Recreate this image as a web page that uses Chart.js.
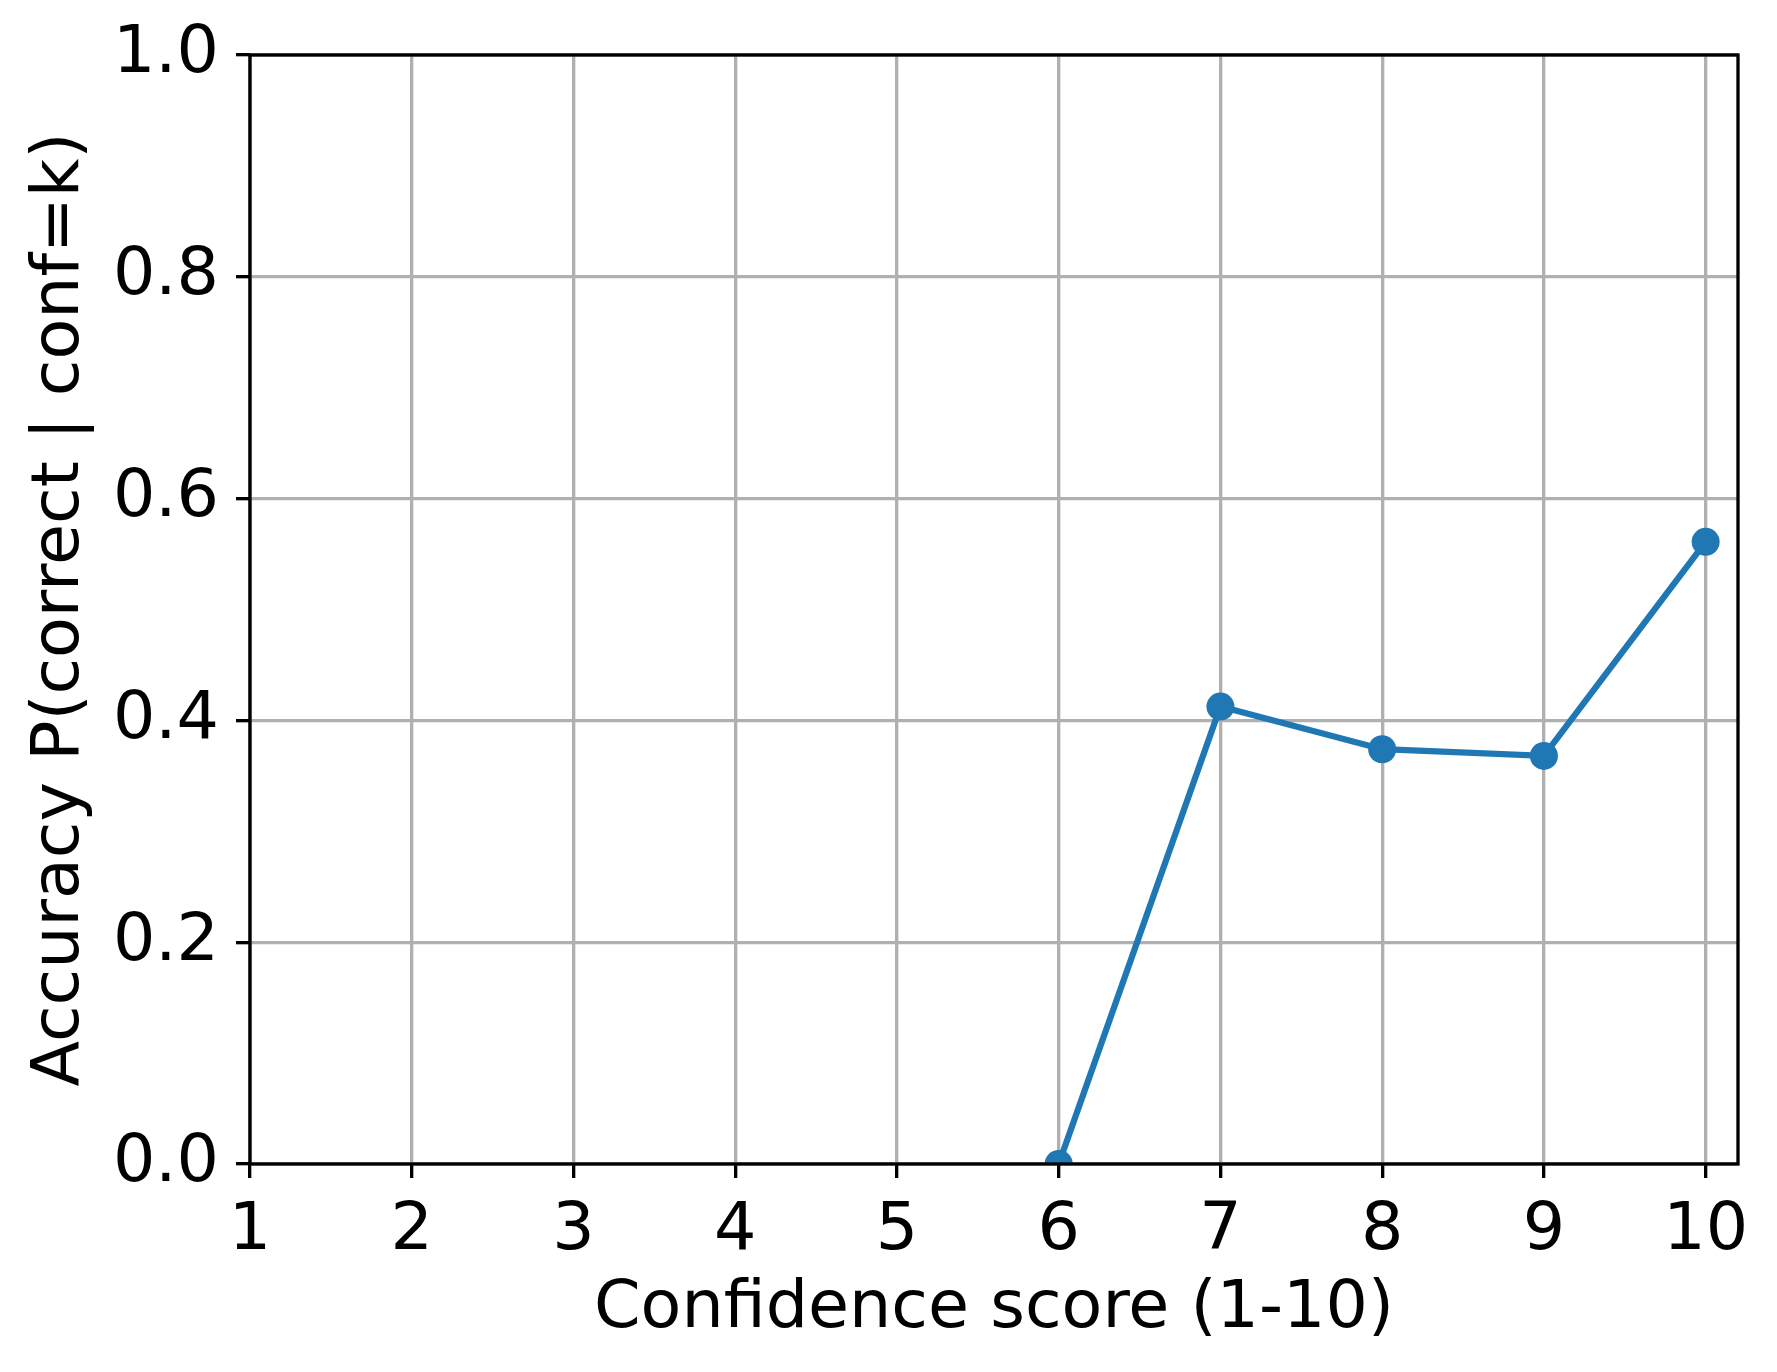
<!DOCTYPE html>
<html>
<head>
<meta charset="utf-8">
<script src="https://cdn.jsdelivr.net/npm/chart.js@4.4.1/dist/chart.umd.min.js"></script>
<style>
  html, body { margin: 0; padding: 0; background: #ffffff; }
  #wrap { width: 1777px; height: 1372px; position: relative; }
  canvas { display: block; }
</style>
</head>
<body>
<div id="wrap"><canvas id="c" width="1777" height="1372"></canvas></div>
<script>
// ---- data ----
const confidenceScores = [6, 7, 8, 9, 10];
const accuracyValues = [0.0, 0.4125, 0.374, 0.368, 0.561];
const xTickValues = [1, 2, 3, 4, 5, 6, 7, 8, 9, 10];
const yTickValues = [0.0, 0.2, 0.4, 0.6, 0.8, 1.0];
const xAxisLabel = 'Confidence score (1-10)';
const yAxisLabel = 'Accuracy P(correct | conf=k)';

const FONT = '"DejaVu Sans", "Liberation Sans", sans-serif';
const FS = 66.7;
const CA = { left: 250, right: 1738, top: 55, bottom: 1164 };
const W = 1777, H = 1372;

const points = confidenceScores.map((x, i) => ({ x: x, y: accuracyValues[i] }));

const frame = {
  id: 'frame',
  afterDatasetsDraw(chart) {
    const { ctx, chartArea: a } = chart;
    ctx.save();
    ctx.strokeStyle = '#000000';
    ctx.lineWidth = 3.33;
    ctx.strokeRect(a.left, a.top, a.right - a.left, a.bottom - a.top);
    ctx.restore();
  }
};

Chart.defaults.font.family = FONT;
Chart.defaults.color = '#000000';

new Chart(document.getElementById('c'), {
  type: 'line',
  data: {
    datasets: [{
      data: points,
      borderColor: '#1f77b4',
      backgroundColor: '#1f77b4',
      borderWidth: 6.25,
      pointRadius: 14,
      pointHoverRadius: 14,
      pointBorderWidth: 0,
      pointBackgroundColor: '#1f77b4',
      tension: 0,
      fill: false,
      clip: 0
    }]
  },
  options: {
    responsive: false,
    animation: false,
    devicePixelRatio: 1,
    layout: { padding: { left: 0, right: W - CA.right, top: CA.top, bottom: 0 } },
    plugins: { legend: { display: false }, tooltip: { enabled: false } },
    scales: {
      x: {
        type: 'linear',
        min: 1,
        max: 10.2,
        afterBuildTicks: (s) => { s.ticks = xTickValues.map(v => ({ value: v })); },
        afterFit: (s) => { s.height = H - CA.bottom; s.paddingLeft = 0; s.paddingRight = 0; },
        ticks: {
          font: { size: FS, family: FONT },
          color: '#000000',
          padding: 14,
          maxRotation: 0,
          autoSkip: false,
          callback: (v) => String(v)
        },
        grid: { color: '#b0b0b0', lineWidth: 3.33, tickLength: 14, tickColor: '#000000', tickWidth: 3.33, drawOnChartArea: true },
        border: { display: false },
        title: { display: true, text: xAxisLabel, font: { size: FS, family: FONT }, color: '#000000', padding: { top: 0, bottom: 22 } }
      },
      y: {
        type: 'linear',
        min: 0,
        max: 1,
        afterBuildTicks: (s) => { s.ticks = yTickValues.map(v => ({ value: v })); },
        afterFit: (s) => { s.width = CA.left; s.paddingTop = 0; s.paddingBottom = 0; },
        ticks: {
          font: { size: FS, family: FONT },
          color: '#000000',
          padding: 17,
          callback: (v) => Number(v).toFixed(1)
        },
        grid: { color: '#b0b0b0', lineWidth: 3.33, tickLength: 14, tickColor: '#000000', tickWidth: 3.33 },
        border: { display: false },
        title: { display: true, text: yAxisLabel, font: { size: FS, family: FONT }, color: '#000000', padding: { top: 21, bottom: 0 } }
      }
    }
  },
  plugins: [frame]
});
</script>
</body>
</html>
